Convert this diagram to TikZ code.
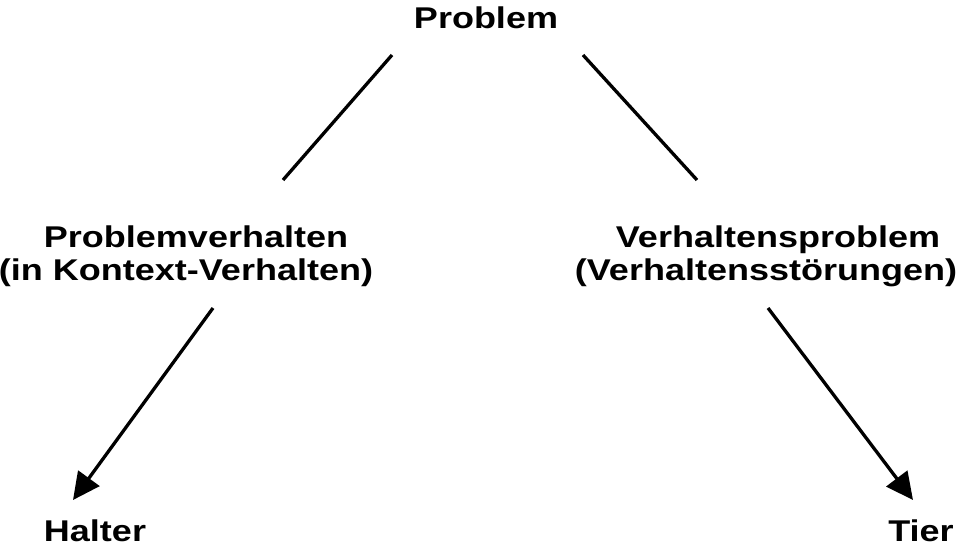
\documentclass[tikz,border=0pt]{standalone}
\usepackage{fontspec}
\setmainfont{Liberation Sans}[FakeStretch=1.2]
\usetikzlibrary{arrows.meta}
\begin{document}
\begin{tikzpicture}[x=1pt,y=-1pt,
  lbl/.style={anchor=base,inner sep=0pt,font=\fontsize{30}{33}\selectfont\bfseries},
  conn/.style={line width=3.3pt},
  arr/.style={line width=3.3pt,-{Triangle[length=27pt,width=26pt]}}]
\useasboundingbox (0,0) rectangle (976,549);
\node[lbl] (prob) at (486,28) {Problem};
\node[lbl] (pv1) at (196,247) {Problemverhalten};
\node[lbl] (pv2) at (186,280) {(in Kontext-Verhalten)};
\node[lbl] (vp1) at (778,247) {Verhaltensproblem};
\node[lbl] (vp2) at (766,280) {(Verhaltensstörungen)};
\node[lbl] (halter) at (95,541) {Halter};
\node[lbl] (tier) at (921,541) {Tier};
\coordinate (l1) at (392,55);
\coordinate (l2) at (283,180);
\coordinate (r1) at (583,55);
\coordinate (r2) at (697,180);
\coordinate (a1) at (213,308);
\coordinate (a2) at (73,500);
\coordinate (b1) at (768,308);
\coordinate (b2) at (913,500);
\draw[conn] (l1) -- (l2);
\draw[conn] (r1) -- (r2);
\draw[arr] (a1) -- (a2);
\draw[arr] (b1) -- (b2);
\end{tikzpicture}
\end{document}
